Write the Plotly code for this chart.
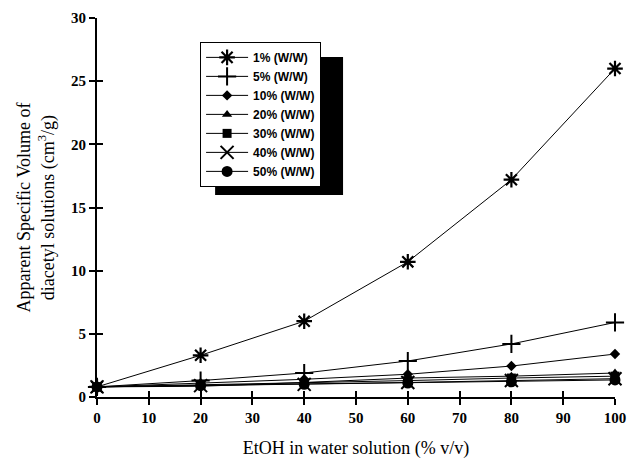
import plotly.graph_objects as go

etoh = [0, 20, 40, 60, 80, 100]
labels = ["1% (W/W)", "5% (W/W)", "10% (W/W)", "20% (W/W)", "30% (W/W)", "40% (W/W)", "50% (W/W)"]
s1 = [0.8, 3.3, 6.0, 10.7, 17.2, 26.0]
s5 = [0.8, 1.3, 1.9, 2.85, 4.2, 5.9]
s10 = [0.8, 1.1, 1.4, 1.8, 2.45, 3.4]
s20 = [0.8, 0.85, 1.15, 1.5, 1.65, 1.9]
s30 = [0.8, 0.95, 1.1, 1.3, 1.5, 1.65]
s40 = [0.8, 0.9, 1.0, 1.15, 1.3, 1.45]
s50 = [0.8, 0.9, 1.0, 1.1, 1.2, 1.35]
series = [s1, s5, s10, s20, s30, s40, s50]

markers = [
    dict(symbol="asterisk-open", size=13, line=dict(width=2.2, color="black")),
    dict(symbol="cross-thin-open", size=13, line=dict(width=2, color="black")),
    dict(symbol="diamond", size=8, color="black"),
    dict(symbol="triangle-up", size=9, color="black"),
    dict(symbol="square", size=9, color="black"),
    dict(symbol="x-thin-open", size=13, line=dict(width=2, color="black")),
    dict(symbol="circle", size=11, color="black"),
]

fig = go.Figure()
for lab, ys, mk in zip(labels, series, markers):
    mk = dict(mk)
    mk.setdefault("color", "black")
    fig.add_trace(go.Scatter(x=etoh, y=ys, name=lab, mode="lines+markers",
                             line=dict(color="black", width=1), marker=mk,
                             cliponaxis=False))

serif = "Liberation Serif"
fig.update_layout(
    width=629, height=465,
    margin=dict(l=97, r=14, t=18, b=68, autoexpand=False),
    paper_bgcolor="white", plot_bgcolor="white",
    showlegend=True,
    legend=dict(x=0.199, y=0.937, xanchor="left", yanchor="top",
                bgcolor="white", bordercolor="black", borderwidth=1,
                font=dict(family="Liberation Sans", size=12, color="black", weight="bold"),
                itemwidth=42, tracegroupgap=0),
    xaxis=dict(range=[0, 100], tickvals=list(range(0, 101, 10)), ticks="outside", ticklen=6,
               tickwidth=1.5, tickcolor="black", showline=True, linecolor="black", linewidth=2,
               showgrid=False, zeroline=False, automargin=False,
               tickfont=dict(family=serif, size=15, color="black", weight="bold"),
               title=dict(text="EtOH in water solution (% v/v)",
                          font=dict(family=serif, size=18, color="black"), standoff=16)),
    yaxis=dict(range=[0, 30], tickvals=list(range(0, 31, 5)), ticks="outside", ticklen=6,
               tickwidth=1.5, tickcolor="black", showline=True, linecolor="black", linewidth=2,
               showgrid=False, zeroline=False, automargin=False,
               tickfont=dict(family=serif, size=15, color="black", weight="bold"),
               title=dict(text="Apparent Specific Volume of<br>diacetyl solutions (cm<sup>3</sup>/g)",
                          font=dict(family=serif, size=18, color="black"), standoff=12)),
    xaxis2=dict(range=[0, 100], overlaying="x", tickvals=list(range(0, 101, 10)), ticks="inside",
                ticklen=6, tickwidth=1.5, tickcolor="black", showticklabels=False,
                showgrid=False, zeroline=False, anchor="y", side="bottom", automargin=False),
    yaxis2=dict(range=[0, 30], overlaying="y", tickvals=list(range(0, 31, 5)), ticks="inside",
                ticklen=6, tickwidth=1.5, tickcolor="black", showticklabels=False,
                showgrid=False, zeroline=False, anchor="x", side="left", automargin=False),
    shapes=[dict(type="rect", xref="paper", yref="paper", x0=0.228, x1=0.475, y0=0.533, y1=0.897,
                 fillcolor="black", line=dict(width=0), layer="below")],
)
fig.add_trace(go.Scatter(x=[None], y=[None], xaxis="x2", yaxis="y2", showlegend=False, hoverinfo="skip"))
fig.write_html("out.html", config={"displayModeBar": False},
               post_script="document.body.style.margin='0';document.body.style.overflow='hidden';")
